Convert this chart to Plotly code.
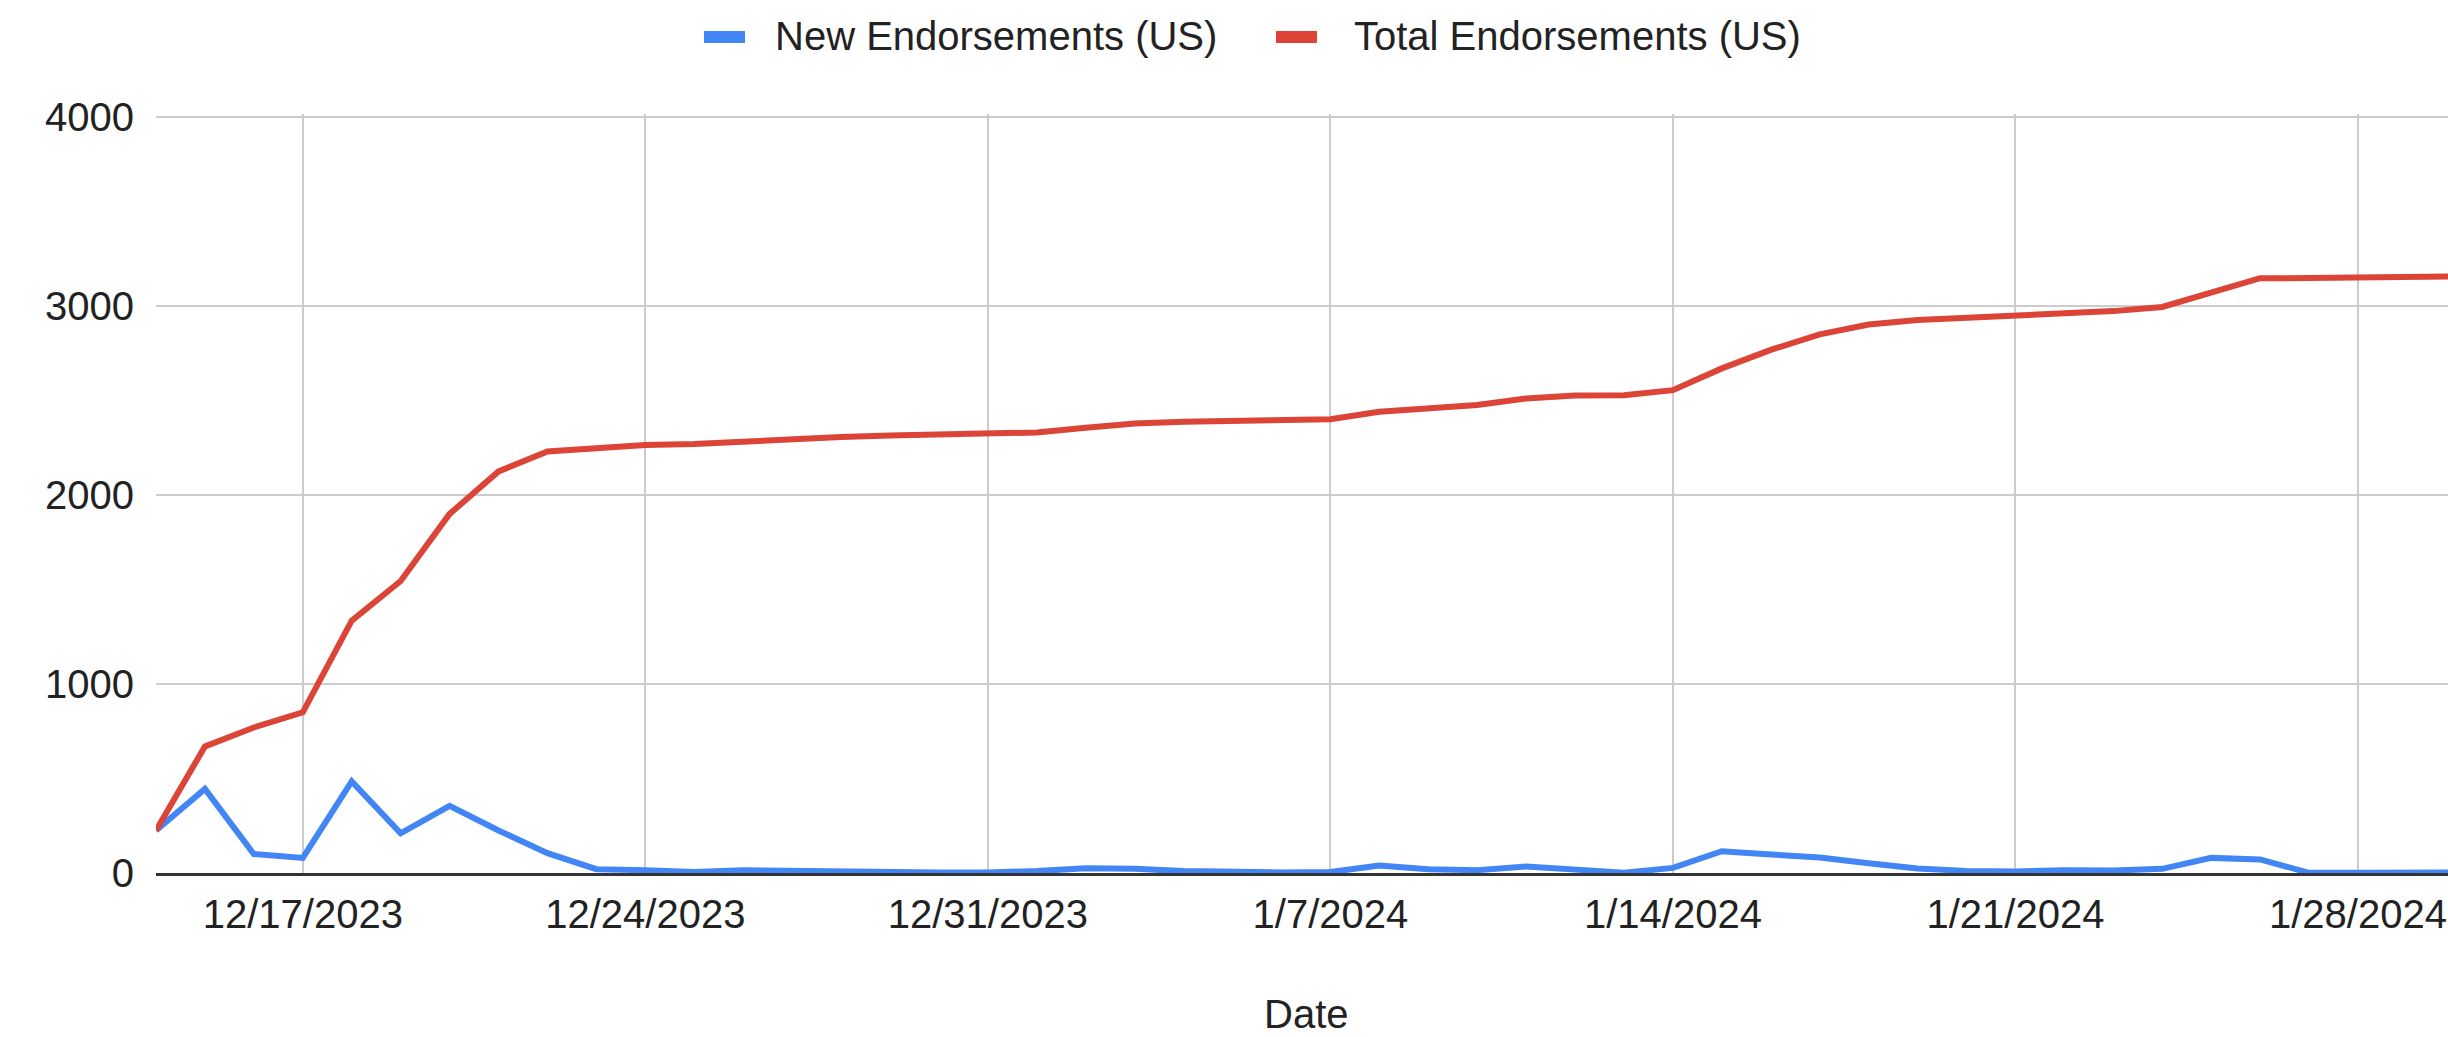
import plotly.graph_objects as go

# Daily US endorsement counts, 14 Dec 2023 - 30 Jan 2024
dates = [
    "2023-12-14", "2023-12-15", "2023-12-16", "2023-12-17", "2023-12-18", "2023-12-19",
    "2023-12-20", "2023-12-21", "2023-12-22", "2023-12-23", "2023-12-24", "2023-12-25",
    "2023-12-26", "2023-12-27", "2023-12-28", "2023-12-29", "2023-12-30", "2023-12-31",
    "2024-01-01", "2024-01-02", "2024-01-03", "2024-01-04", "2024-01-05", "2024-01-06",
    "2024-01-07", "2024-01-08", "2024-01-09", "2024-01-10", "2024-01-11", "2024-01-12",
    "2024-01-13", "2024-01-14", "2024-01-15", "2024-01-16", "2024-01-17", "2024-01-18",
    "2024-01-19", "2024-01-20", "2024-01-21", "2024-01-22", "2024-01-23", "2024-01-24",
    "2024-01-25", "2024-01-26", "2024-01-27", "2024-01-28", "2024-01-29", "2024-01-30",
]

new_endorsements = [
    225, 445, 100, 80, 485, 210,
    355, 225, 105, 20, 15, 5,
    15, 10, 12, 8, 3, 3,
    10, 25, 22, 10, 5, 3,
    5, 40, 20, 15, 35, 15,
    2, 27, 115, 98, 82, 52,
    24, 11, 8, 15, 13, 22,
    80, 72, 1, 1, 5, 3,
]

total_endorsements = [
    225, 670, 770, 850, 1335, 1545,
    1900, 2125, 2230, 2250, 2265, 2270,
    2285, 2295, 2307, 2315, 2318, 2321,
    2331, 2356, 2378, 2388, 2393, 2396,
    2401, 2441, 2461, 2476, 2511, 2526,
    2528, 2555, 2670, 2768, 2850, 2902,
    2926, 2937, 2945, 2960, 2973, 2995,
    3075, 3147, 3148, 3149, 3154, 3157,
]

tick_dates = ["2023-12-17", "2023-12-24", "2023-12-31", "2024-01-07",
              "2024-01-14", "2024-01-21", "2024-01-28"]
tick_labels = ["12/17/2023", "12/24/2023", "12/31/2023", "1/7/2024",
               "1/14/2024", "1/21/2024", "1/28/2024"]
y_ticks = [0, 1000, 2000, 3000, 4000]
y_tick_labels = ["0", "1000", "2000", "3000", "4000"]

series_names = ["New Endorsements (US)", "Total Endorsements (US)"]
x_title = "Date"

BLUE = "#4285F4"
RED = "#DB4437"
GRID = "#cccccc"
TEXT = "#222222"
FONT = "Liberation Sans, Arial, Helvetica, sans-serif"

W, H = 2448, 1037
M_L, M_R, M_T, M_B = 156, 0, 114, 164
PLOT_W = W - M_L - M_R
PLOT_H = H - M_T - M_B


def px_x(px):
    return (px - M_L) / PLOT_W


def px_y(py):
    return (H - M_B - py) / PLOT_H


fig = go.Figure()
fig.add_trace(go.Scatter(x=dates, y=new_endorsements, mode="lines",
                         name=series_names[0],
                         line=dict(color=BLUE, width=6)))
fig.add_trace(go.Scatter(x=dates, y=total_endorsements, mode="lines",
                         name=series_names[1],
                         line=dict(color=RED, width=6)))

# Legend drawn as colour swatches plus labels above the plot
legend_items = [(series_names[0], BLUE, 704, 745, 773),
                (series_names[1], RED, 1276, 1317, 1352)]
shapes = []
annotations = []
for name, color, x0, x1, tx in legend_items:
    shapes.append(dict(type="rect", xref="paper", yref="paper",
                       x0=px_x(x0), x1=px_x(x1), y0=px_y(43), y1=px_y(31),
                       fillcolor=color, line=dict(width=0)))
    annotations.append(dict(text=name, xref="paper", yref="paper",
                            x=px_x(tx), y=px_y(36), xanchor="left", yanchor="middle",
                            showarrow=False, font=dict(size=40, color=TEXT, family=FONT)))

annotations.append(dict(text=x_title, xref="paper", yref="paper",
                        x=px_x(1306), y=px_y(1014), xanchor="center", yanchor="middle",
                        showarrow=False, font=dict(size=40, color=TEXT, family=FONT)))

fig.update_layout(
    width=W, height=H,
    margin=dict(l=M_L, r=M_R, t=M_T, b=M_B, pad=0),
    paper_bgcolor="white", plot_bgcolor="white",
    font=dict(family=FONT, size=40, color=TEXT),
    showlegend=False,
    shapes=shapes,
    annotations=annotations,
    xaxis=dict(
        type="date",
        range=["2023-12-14", "2024-01-29 20:10"],
        tickvals=tick_dates, ticktext=tick_labels,
        showgrid=True, gridcolor=GRID, gridwidth=2,
        ticks="", ticklabelstandoff=4,
        showline=True, linecolor="#333333", linewidth=3,
        layer="below traces",
        zeroline=False,
        tickfont=dict(size=40, color=TEXT, family=FONT),
        automargin=False,
    ),
    yaxis=dict(
        range=[0, 4016],
        tickvals=y_ticks, ticktext=y_tick_labels,
        showgrid=True, gridcolor=GRID, gridwidth=2,
        zeroline=False, ticks="", ticklabelstandoff=21,
        tickfont=dict(size=40, color=TEXT, family=FONT),
        automargin=False,
    ),
)

fig.write_html("out.html")
